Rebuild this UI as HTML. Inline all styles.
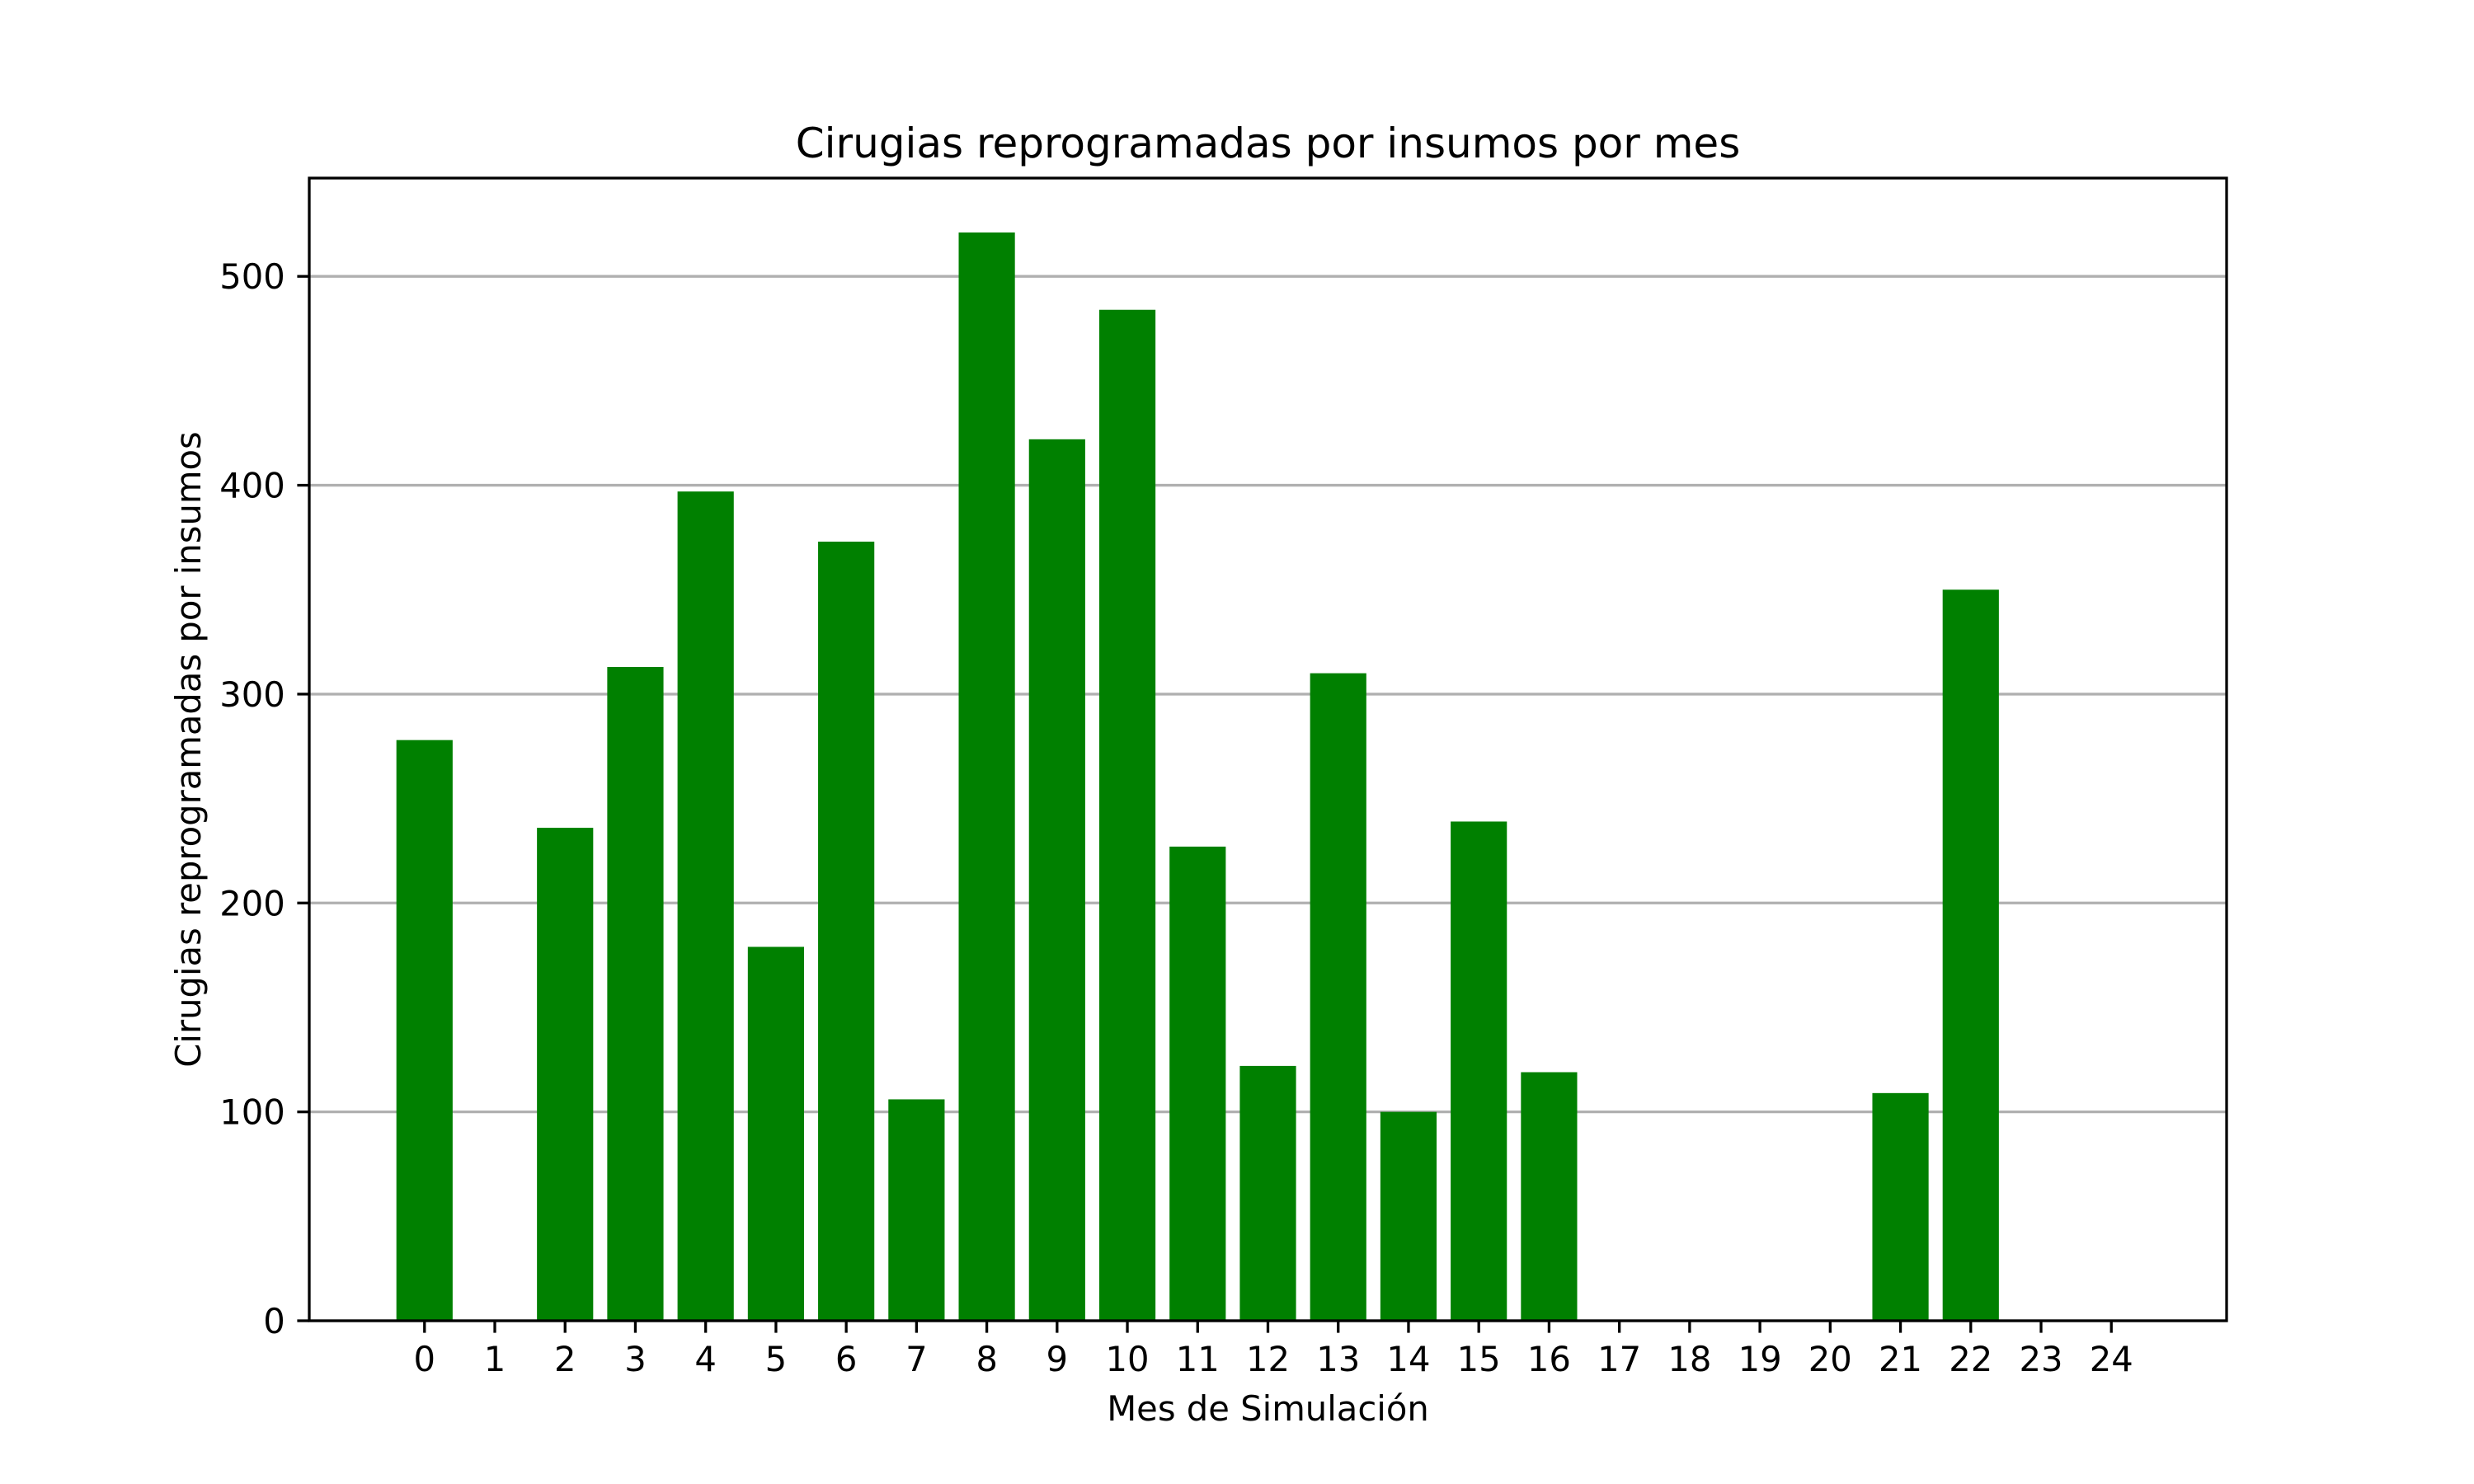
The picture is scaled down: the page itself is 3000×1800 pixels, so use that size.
<!DOCTYPE html>
<html><head><meta charset="utf-8"><style>
html,body{margin:0;padding:0;background:#fff}
svg{display:block;font-family:"DejaVu Sans","Liberation Sans",sans-serif}
</style></head><body>
<svg id="chart" width="3000" height="1800" viewBox="0 0 3000 1800"></svg>
<script>
const categories = ["0","1","2","3","4","5","6","7","8","9","10","11","12","13","14","15","16","17","18","19","20","21","22","23","24"];
const values = [278,0,236,313,397,179,373,106,521,422,484,227,122,310,100,239,119,0,0,0,0,109,350,0,0];
const yTicks = [0,100,200,300,400,500];

const NS="http://www.w3.org/2000/svg";
const svg=document.getElementById('chart');
const L=375,R=2700,T=216,B=1602;
const maxV=Math.max(...values);
const yMax=maxV*1.05;
const xMin=-0.4-0.05*24.8, xMax=24.4+0.05*24.8;
const xs=v=>L+(v-xMin)/(xMax-xMin)*(R-L);
const ys=v=>B-v/yMax*(B-T);
function el(tag,attrs,parent){const e=document.createElementNS(NS,tag);for(const k in attrs)e.setAttribute(k,attrs[k]);(parent||svg).appendChild(e);return e;}

yTicks.forEach(t=>{
  const g=el('line',{x1:L,x2:R,y1:ys(t),y2:ys(t),stroke:'#b0b0b0','stroke-width':3.3});
  
  
});
values.forEach((v,i)=>{
  const x0=xs(i-0.4),x1=xs(i+0.4);
  const b=el('rect',{x:x0,y:ys(v),width:x1-x0,height:B-ys(v),fill:'#008000'});
  
  
});
const sp=el('rect',{x:L,y:T,width:R-L,height:B-T,fill:'none',stroke:'#000','stroke-width':3.3});


categories.forEach((c,i)=>{
  const x=xs(i);
  const tk=el('line',{x1:x,x2:x,y1:B,y2:B+14.6,stroke:'#000','stroke-width':3.3});
  
  
  const t=el('text',{x:x,y:B+14.6+14.6+32,'text-anchor':'middle','font-size':41.7,fill:'#000'});
  t.textContent=c;
  
  
});
yTicks.forEach(v=>{
  const y=ys(v);
  const tk=el('line',{x1:L-14.6,x2:L,y1:y,y2:y,stroke:'#000','stroke-width':3.3});
  
  
  const t=el('text',{x:L-14.6-14.6,y:y+15,'text-anchor':'end','font-size':41.7,fill:'#000'});
  t.textContent=v;
  
  
});
const ti=el('text',{x:(L+R)/2,y:191,'text-anchor':'middle','font-size':50,fill:'#000'});
ti.textContent='Cirugias reprogramadas por insumos por mes';


const xl=el('text',{x:(L+R)/2,y:1723,'text-anchor':'middle','font-size':41.7,fill:'#000'});
xl.textContent='Mes de Simulación';


const yl=el('text',{x:0,y:0,'text-anchor':'middle','font-size':41.7,fill:'#000',transform:`translate(243,${(T+B)/2}) rotate(-90)`});
yl.textContent='Cirugias reprogramadas por insumos';


</script>
</body></html>
